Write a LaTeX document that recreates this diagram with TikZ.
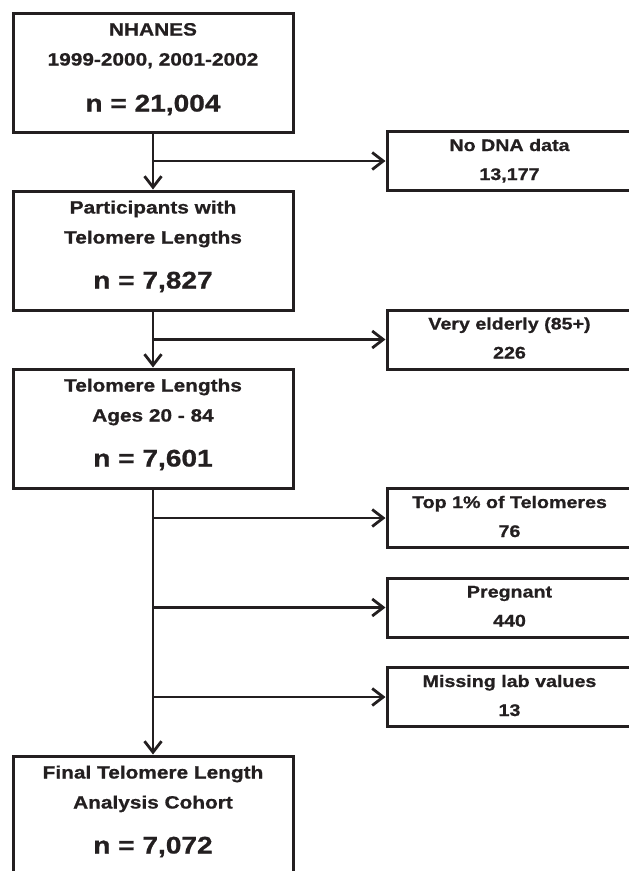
\documentclass[tikz,border=0pt]{standalone}
\usepackage{fontspec}
\usepackage{tikz}
\usetikzlibrary{arrows.meta,positioning,calc}
\newfontfamily\chartfont{Liberation Sans}[FakeStretch=1.17, BoldFeatures={FakeBold=0.9}]
\definecolor{flowInk}{HTML}{231F20}

\begin{document}
\begin{tikzpicture}[
    x=1pt, y=1pt,
    mainbox/.style={draw=flowInk, line width=3pt, minimum width=280pt, minimum height=119pt, inner sep=0pt},
    exclbox/.style={draw=flowInk, line width=3pt, minimum width=245pt, minimum height=59pt, inner sep=0pt},
    boxline/.style={anchor=base, inner sep=0pt, text=flowInk, font=\chartfont\bfseries\fontsize{17.8}{20}\selectfont},
    countline/.style={anchor=base, inner sep=0pt, text=flowInk, font=\chartfont\bfseries\fontsize{24}{28}\selectfont},
    exclline/.style={anchor=base, inner sep=0pt, text=flowInk, font=\chartfont\bfseries\fontsize{16.8}{20}\selectfont},
    flow/.style={draw=flowInk, line width=2.8pt, -{Straight Barb[length=11pt,width=17pt,line width=2.8pt]}}
]
\useasboundingbox (0,0) rectangle (629,-871);

% ===== MAIN COLUMN =====
\node[mainbox] (nhanes) at (153,-72.5) {};
\node[boxline] (nhanesA) at ([yshift=-24]nhanes.north) {NHANES};
\node[boxline] (nhanesB) at ([yshift=-54]nhanes.north) {1999-2000, 2001-2002};
\node[countline] (nhanesN) at ([yshift=-100]nhanes.north) {n = 21,004};

\node[mainbox] (telo) at (153,-250.5) {};
\node[boxline] (teloA) at ([yshift=-24]telo.north) {Participants with};
\node[boxline] (teloB) at ([yshift=-54]telo.north) {Telomere Lengths};
\node[countline] (teloN) at ([yshift=-99]telo.north) {n = 7,827};

\node[mainbox] (ages) at (153,-428.5) {};
\node[boxline] (agesA) at ([yshift=-24]ages.north) {Telomere Lengths};
\node[boxline] (agesB) at ([yshift=-54]ages.north) {Ages 20 - 84};
\node[countline] (agesN) at ([yshift=-99]ages.north) {n = 7,601};

\node[mainbox] (final) at (153,-815.5) {};
\node[boxline] (finalA) at ([yshift=-24]final.north) {Final Telomere Length};
\node[boxline] (finalB) at ([yshift=-54]final.north) {Analysis Cohort};
\node[countline] (finalN) at ([yshift=-99]final.north) {n = 7,072};

% ===== EXCLUSIONS =====
\node[exclbox] (nodna) at (509.5,-161) {};
\node[exclline] (nodnaA) at ([yshift=-21]nodna.north) {No DNA data};
\node[exclline] (nodnaN) at ([yshift=-50]nodna.north) {13,177};

\node[exclbox] (elder) at (509.5,-339.5) {};
\node[exclline] (elderA) at ([yshift=-21]elder.north) {Very elderly (85+)};
\node[exclline] (elderN) at ([yshift=-50]elder.north) {226};

\node[exclbox] (top) at (509.5,-518) {};
\node[exclline] (topA) at ([yshift=-21]top.north) {Top 1\% of Telomeres};
\node[exclline] (topN) at ([yshift=-50]top.north) {76};

\node[exclbox] (preg) at (509.5,-607.5) {};
\node[exclline] (pregA) at ([yshift=-21]preg.north) {Pregnant};
\node[exclline] (pregN) at ([yshift=-50]preg.north) {440};

\node[exclbox] (lab) at (509.5,-697) {};
\node[exclline] (labA) at ([yshift=-21]lab.north) {Missing lab values};
\node[exclline] (labN) at ([yshift=-50]lab.north) {13};

% ===== CONNECTORS =====
\draw[flow] (nhanes.south) -- (telo.north);
\draw[flow] (telo.south) -- (ages.north);
\draw[flow] (ages.south) -- (final.north);

\coordinate (split1) at (nhanes.south |- nodna.west);
\coordinate (split2) at (telo.south |- elder.west);
\coordinate (split3) at (ages.south |- top.west);
\coordinate (split4) at (ages.south |- preg.west);
\coordinate (split5) at (ages.south |- lab.west);

\draw[flow] (split1) -- (nodna.west);
\draw[flow] (split2) -- (elder.west);
\draw[flow] (split3) -- (top.west);
\draw[flow] (split4) -- (preg.west);
\draw[flow] (split5) -- (lab.west);

\end{tikzpicture}
\end{document}
